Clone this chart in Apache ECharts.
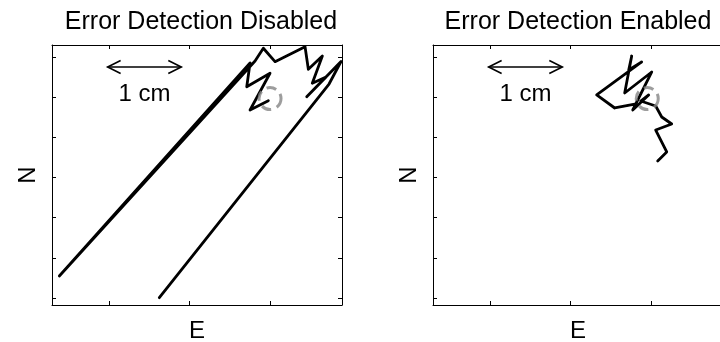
<!DOCTYPE html>
<html><head><meta charset="utf-8">
<script src="https://cdn.jsdelivr.net/npm/echarts@6/dist/echarts.min.js"></script>
<style>html,body{margin:0;padding:0;background:#fff}#c{width:720px;height:342px}</style>
</head><body><div id="c"></div>
<script>
// ---- data ----
const titles = ['Error Detection Disabled', 'Error Detection Enabled'];
const xName = 'E';
const yName = 'N';
const xTicks = [1, 2, 3];
const yTicks = [1, 2, 3, 4, 5, 6, 7];
const xRange = [0.292, 3.894];
const yRange = [0.826, 7.298];

// track without error detection (E, N)
const disabledE = [2.979, 2.752, 3.000, 2.711, 2.752, 0.383, 2.814, 2.917, 3.062, 3.435, 3.476, 3.650, 3.525, 3.696, 3.456, 3.882, 3.733, 1.625];
const disabledN = [5.912, 5.680, 6.594, 6.260, 6.850, 1.548, 6.900, 7.216, 6.883, 7.256, 6.693, 7.024, 6.345, 6.502, 6.011, 6.887, 6.327, 1.007];

// track with error detection (E, N)
const enabledE = [3.083, 3.195, 3.058, 3.257, 3.133, 3.058, 2.872, 2.971, 2.773, 3.009, 2.673, 2.760, 2.723, 2.884, 2.325, 2.549, 2.798];
const enabledN = [4.411, 4.635, 5.182, 5.332, 5.506, 5.780, 5.904, 6.054, 5.680, 6.626, 6.103, 7.024, 6.676, 6.875, 6.054, 5.730, 5.829];

// true position (dashed circle)
const circleE = [3.000, 2.953];
const circleN = [5.966, 5.966];

// scale bar
const scaleBarE = [0.983, 1.898];
const scaleBarN = 6.75;
const scaleBarLabel = '1 cm';
const scaleBarLabelN = 6.06;

// ---- chart ----
const FONT = 'Liberation Sans, Arial, Helvetica, sans-serif';
const chart = echarts.init(document.getElementById('c'), null, {renderer: 'canvas'});

const gridLefts = [52, 433];
const grids = gridLefts.map(l => ({left: l, top: 45, width: 290, height: 260, containLabel: false, outerBoundsMode: 'none'}));

function axisBase(gi, pos, isX, named) {
  const a = {
    gridIndex: gi, type: 'value', position: pos,
    min: isX ? xRange[0] : yRange[0], max: isX ? xRange[1] : yRange[1],
    axisLine: {show: true, onZero: false, lineStyle: {color: '#000', width: 1}},
    axisTick: {show: true, inside: true, length: 4, customValues: isX ? xTicks : yTicks, lineStyle: {color: '#000', width: 1}},
    axisLabel: {show: false},
    splitLine: {show: false}
  };
  if (named) {
    a.name = isX ? xName : yName;
    a.nameLocation = 'middle';
    a.nameGap = isX ? 14 : 12;
    if (!isX) a.nameRotate = 90;
    a.nameTextStyle = {fontSize: 24, color: '#000', fontFamily: FONT};
  }
  return a;
}

const xAxes = [], yAxes = [];
[0, 1].forEach(g => {
  xAxes.push(axisBase(g, 'bottom', true, true));
  xAxes.push(axisBase(g, 'top', true, false));
  yAxes.push(axisBase(g, 'left', false, true));
  const r = axisBase(g, 'right', false, false);
  if (g === 1) { r.axisTick.show = false; }
  yAxes.push(r);
});

const tracks = [
  disabledE.map((e, i) => [e, disabledN[i]]),
  enabledE.map((e, i) => [e, enabledN[i]])
];

const series = [];
[0, 1].forEach(g => {
  series.push({
    type: 'line', xAxisIndex: g * 2, yAxisIndex: g * 2,
    data: tracks[g], showSymbol: false, symbol: 'none', clip: true,
    lineStyle: {color: '#000', width: 2.8, join: 'round', cap: 'round'},
    silent: true, z: 2
  });
  series.push({
    type: 'scatter', xAxisIndex: g * 2, yAxisIndex: g * 2,
    data: [[circleE[g], circleN[g]]], symbol: 'circle', symbolSize: 22,
    itemStyle: {color: 'rgba(0,0,0,0)', borderColor: '#858585', borderWidth: 3, borderType: [10, 6]},
    silent: true, z: 3
  });
  series.push({
    type: 'custom', xAxisIndex: g * 2, yAxisIndex: g * 2,
    data: [[scaleBarE[0], scaleBarE[1], scaleBarN]], silent: true, z: 4,
    renderItem: function (params, api) {
      const p1 = api.coord([api.value(0), api.value(2)]);
      const p2 = api.coord([api.value(1), api.value(2)]);
      const pt = api.coord([(api.value(0) + api.value(1)) / 2, scaleBarLabelN]);
      const hl = 13, hh = 6.5;
      const st = {stroke: '#000', lineWidth: 1.6, fill: null};
      return {
        type: 'group',
        children: [
          {type: 'line', shape: {x1: p1[0], y1: p1[1], x2: p2[0], y2: p2[1]}, style: st},
          {type: 'polyline', shape: {points: [[p1[0] + hl, p1[1] - hh], [p1[0], p1[1]], [p1[0] + hl, p1[1] + hh]]}, style: st},
          {type: 'polyline', shape: {points: [[p2[0] - hl, p2[1] - hh], [p2[0], p2[1]], [p2[0] - hl, p2[1] + hh]]}, style: st},
          {type: 'text', style: {text: scaleBarLabel, x: pt[0], y: pt[1], align: 'center', verticalAlign: 'middle', fontSize: 24, fontFamily: FONT, fill: '#000'}}
        ]
      };
    }
  });
});

chart.setOption({
  animation: false,
  backgroundColor: '#fff',
  grid: grids,
  xAxis: xAxes,
  yAxis: yAxes,
  series: series,
  graphic: [
    {type: 'text', x: 201, y: 22, style: {text: titles[0], align: 'center', verticalAlign: 'middle', fontSize: 25, fontFamily: FONT, fill: '#000'}},
    {type: 'text', x: 578, y: 22, style: {text: titles[1], align: 'center', verticalAlign: 'middle', fontSize: 25, fontFamily: FONT, fill: '#000'}}
  ]
});
</script>
</body></html>
